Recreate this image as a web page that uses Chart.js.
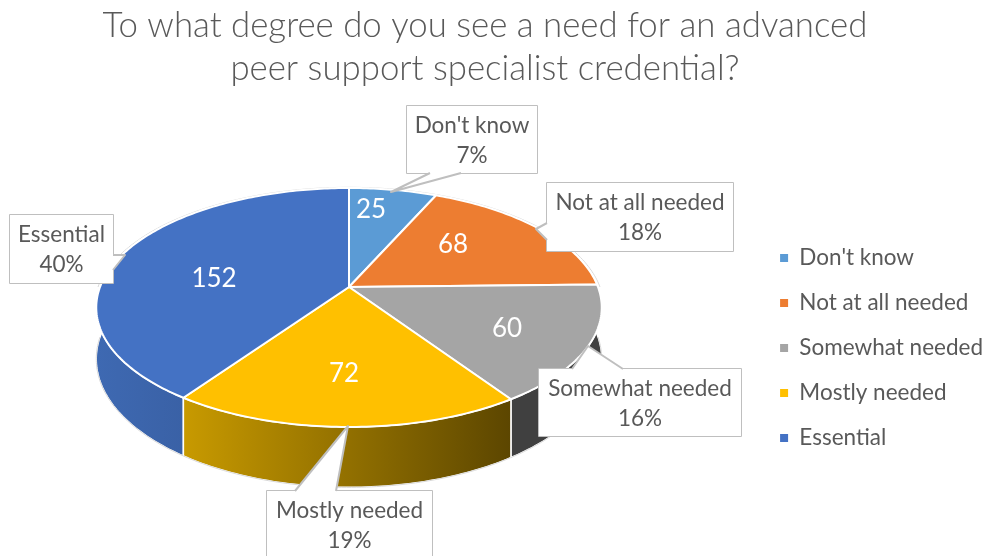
<!DOCTYPE html>
<html>
<head>
<meta charset="utf-8">
<title>Advanced peer support specialist credential</title>
<script src="https://cdn.jsdelivr.net/npm/chart.js@4/dist/chart.umd.min.js"></script>
<style>
  html, body { margin:0; padding:0; background:#fff; overflow:hidden; }
  canvas { display:block; }
</style>
</head>
<body>
<canvas id="pie" width="985" height="556"></canvas>
<script>
/* ---------------------------
   Data
   --------------------------- */
const titleLines = ['To what degree do you see a need for an advanced', 'peer support specialist credential?'];
const categories = ["Don't know", 'Not at all needed', 'Somewhat needed', 'Mostly needed', 'Essential'];
const responses = [25, 68, 60, 72, 152];

const sliceColors = ['#5b9bd5', '#ed7d31', '#a5a5a5', '#ffc000', '#4472c4'];
// side wall gradient per slice, left to right
const wallColors = [
  ['#3f6f9c', '#3f6f9c'],
  ['#8a4a1d', '#8a4a1d'],
  ['#404040', '#404040'],
  ['#c89a00', '#5c4600'],
  ['#3e69b2', '#32528f']
];

/* label placement, in the same order as categories */
const valueAnchors = [[371, 210], [453, 245], [507, 329], [344, 374], [214, 279]];
const calloutBoxes = [
  [407, 106, 130, 67],
  [547, 183, 186, 68],
  [539, 369, 202, 67],
  [267, 491, 165, 70],
  [10, 215, 103, 68]
];
// pointer of each callout: base start, tip, base end
const calloutPointers = [
  [[430, 173], [391, 192], [461, 173]],
  [[547, 223], [536, 229], [547, 240]],
  [[572, 369], [588, 346], [623, 369]],
  [[295, 491], [348, 426], [336, 491]],
  [[113, 255], [125, 255], [113, 270]]
];

/* ---------------------------
   Tilted disc projection
   --------------------------- */
const disc = { x:349, y:287, rx:249, ry:116, persp:0.1715, depth:50 };

function project(angle, r, lift) {
  const u = Math.cos(angle) * r, v = Math.sin(angle) * r;
  const w = 1 - disc.persp * v;
  return [disc.x + disc.rx * u / w, disc.y + (disc.ry * v + (lift || 0)) / w];
}

function rimPoints(a0, a1, lift, r) {
  const n = Math.max(2, Math.ceil(Math.abs(a1 - a0) * 60));
  const pts = [];
  for (let i = 0; i <= n; i++) pts.push(project(a0 + (a1 - a0) * i / n, r || 1, lift));
  return pts;
}

function tracePath(ctx, pts) {
  pts.forEach((p, i) => i ? ctx.lineTo(p[0], p[1]) : ctx.moveTo(p[0], p[1]));
}

/* Draws the arcs the pie controller laid out, as a 3D disc */
const disc3d = {
  id: 'disc3d',
  beforeDatasetsDraw(chart) {
    const ctx = chart.ctx;
    const arcs = chart.getDatasetMeta(0).data.map(a => a.getProps(['startAngle', 'endAngle'], true));

    // walls first, the front slice goes last so its edges stay on top
    [0, 1, 2, 4, 3].forEach(i => {
      const top = rimPoints(arcs[i].startAngle, arcs[i].endAngle, 0);
      const bottom = rimPoints(arcs[i].endAngle, arcs[i].startAngle, disc.depth);
      const xs = top.map(p => p[0]);
      const grad = ctx.createLinearGradient(Math.min(...xs), 0, Math.max(...xs), 0);
      grad.addColorStop(0, wallColors[i][0]);
      grad.addColorStop(1, wallColors[i][1]);
      ctx.beginPath();
      tracePath(ctx, top.concat(bottom));
      ctx.closePath();
      ctx.fillStyle = grad;
      ctx.fill();
      ctx.strokeStyle = '#fff';
      ctx.lineWidth = 1.5;
      ctx.stroke();
    });

    // faint outline around the lower rim and the back of the top face
    ctx.strokeStyle = '#d9d9d9';
    ctx.lineWidth = 1;
    ctx.beginPath();
    tracePath(ctx, rimPoints(0, Math.PI, disc.depth));
    ctx.stroke();
    ctx.beginPath();
    tracePath(ctx, rimPoints(Math.PI, 2 * Math.PI, 0, 1.008));
    ctx.stroke();

    // top faces
    arcs.forEach((arc, i) => {
      ctx.beginPath();
      tracePath(ctx, [[disc.x, disc.y]].concat(rimPoints(arc.startAngle, arc.endAngle, 0)));
      ctx.closePath();
      ctx.fillStyle = sliceColors[i];
      ctx.fill();
      ctx.strokeStyle = '#fff';
      ctx.lineWidth = 2;
      ctx.lineJoin = 'round';
      ctx.stroke();
    });
    return false;
  }
};

/* Value numbers on the slices and the white callouts */
const sliceLabels = {
  id: 'sliceLabels',
  afterDraw(chart) {
    const ctx = chart.ctx;
    const total = responses.reduce((a, b) => a + b, 0);
    ctx.save();
    ctx.textAlign = 'center';
    ctx.textBaseline = 'middle';

    ctx.font = '26px Lato';
    ctx.fillStyle = '#fff';
    responses.forEach((v, i) => ctx.fillText(String(v), valueAnchors[i][0], valueAnchors[i][1]));

    categories.forEach((name, i) => {
      const [x, y, w, h] = calloutBoxes[i];
      const [p0, tip, p1] = calloutPointers[i];
      ctx.beginPath();
      ctx.rect(x, y, w, h);
      ctx.fillStyle = '#fff';
      ctx.strokeStyle = '#bfbfbf';
      ctx.lineWidth = 2;
      ctx.stroke();
      ctx.fill();
      ctx.beginPath();
      tracePath(ctx, [p0, tip, p1]);
      ctx.closePath();
      ctx.fill();
      ctx.beginPath();
      tracePath(ctx, [p0, tip, p1]);
      ctx.stroke();

      ctx.font = '22.5px Lato';
      ctx.fillStyle = '#595959';
      ctx.fillText(name, x + w / 2, y + 20);
      ctx.fillText(Math.round(responses[i] / total * 100) + '%', x + w / 2, y + 50);
    });
    ctx.restore();
  }
};

/* nudges the title and the legend away from their default slots */
const blockNudge = {
  id: 'blockNudge',
  afterLayout(chart) {
    chart.titleBlock.left -= 7.5;
    chart.titleBlock.right -= 7.5;
    chart.legend.left += 8;
    chart.legend.right += 8;
    chart.legend.top += 70;
    chart.legend.bottom += 70;
  }
};

/* ---------------------------
   Chart
   --------------------------- */
new Chart(document.getElementById('pie'), {
  type: 'pie',
  data: {
    labels: categories,
    datasets: [{ data: responses, backgroundColor: sliceColors, borderWidth: 0 }]
  },
  plugins: [disc3d, sliceLabels, blockNudge],
  options: {
    responsive: false,
    animation: false,
    plugins: {
      tooltip: { enabled: false },
      title: {
        display: true,
        text: titleLines,
        color: '#595959',
        font: { family: 'Lato', size: 34.8, weight: '300', lineHeight: 1.24 },
        padding: { top: 4, bottom: 43 }
      },
      legend: {
        position: 'right',
        labels: {
          color: '#595959',
          font: { family: 'Lato', size: 22.5 },
          boxWidth: 8,
          boxHeight: 8,
          padding: 22.5
        }
      }
    }
  }
});
</script>
</body>
</html>
